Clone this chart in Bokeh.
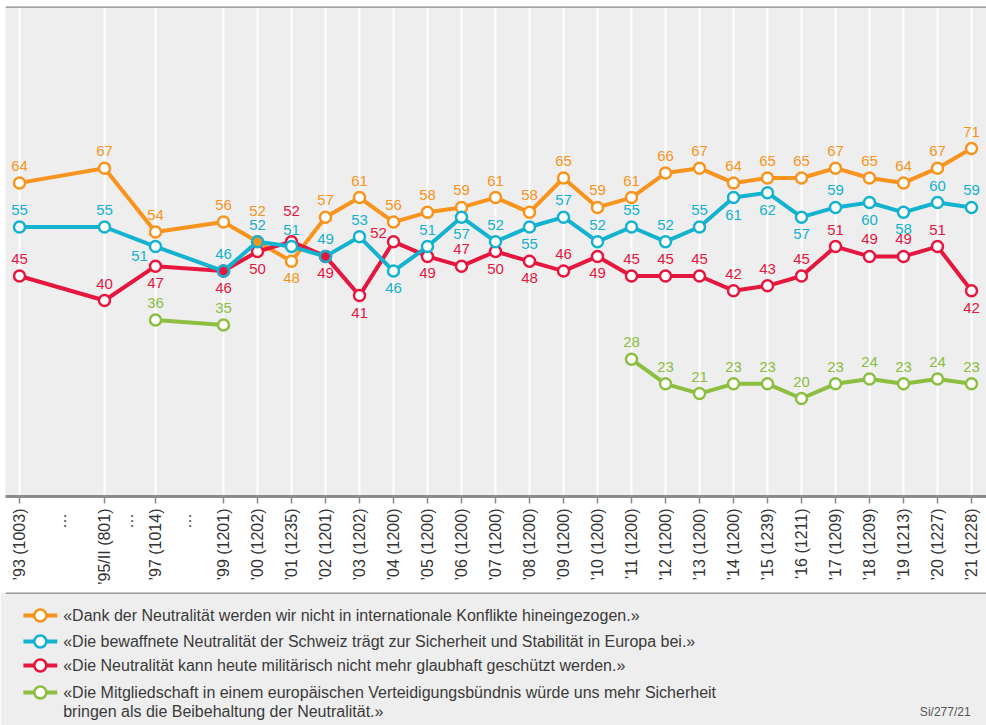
import math
import numpy as np
import pandas as pd
from bokeh.plotting import figure
from bokeh.models import ColumnDataSource, FixedTicker, Span, Range1d
from bokeh.layouts import column
from bokeh.embed import file_html
from bokeh.resources import INLINE
from bokeh.core.properties import value

# ---------------- data ----------------
years = [1993, 1995.5, 1997, 1999, 2000, 2001, 2002, 2003, 2004, 2005, 2006, 2007,
         2008, 2009, 2010, 2011, 2012, 2013, 2014, 2015, 2016, 2017, 2018, 2019, 2020, 2021]
tick_labels = ["’93 (1003)", "’95/II (801)", "’97 (1014)", "’99 (1201)", "’00 (1202)",
               "’01 (1235)", "’02 (1201)", "’03 (1202)", "’04 (1200)", "’05 (1200)",
               "’06 (1200)", "’07 (1200)", "’08 (1200)", "’09 (1200)", "’10 (1200)",
               "’11 (1200)", "’12 (1200)", "’13 (1200)", "’14 (1200)", "’15 (1239)",
               "’16 (1211)", "’17 (1209)", "’18 (1209)", "’19 (1213)", "’20 (1227)",
               "’21 (1228)"]
gap_marks = [1994.2, 1996.17, 1997.88]
gap_label = "…\u00a0"

nan = float("nan")
konflikte = [64, 67, 54, 56, 52, 48, 57, 61, 56, 58, 59, 61, 58, 65, 59, 61, 66, 67,
             64, 65, 65, 67, 65, 64, 67, 71]
stabilitaet = [55, 55, 51, 46, 52, 51, 49, 53, 46, 51, 57, 52, 55, 57, 52, 55, 52, 55,
               61, 62, 57, 59, 60, 58, 60, 59]
nicht_glaubhaft = [45, 40, 47, 46, 50, 52, 49, 41, 52, 49, 47, 50, 48, 46, 49, 45, 45,
                   45, 42, 43, 45, 51, 49, 49, 51, 42]
buendnis = [nan, nan, 36, 35, nan, nan, nan, nan, nan, nan, nan, nan, nan, nan, nan,
            28, 23, 21, 23, 23, 20, 23, 24, 23, 24, 23]

legend_texts = [
    ["«Dank der Neutralität werden wir nicht in internationale Konflikte hineingezogen.»"],
    ["«Die bewaffnete Neutralität der Schweiz trägt zur Sicherheit und Stabilität in Europa bei.»"],
    ["«Die Neutralität kann heute militärisch nicht mehr glaubhaft geschützt werden.»"],
    ["«Die Mitgliedschaft in einem europäischen Verteidigungsbündnis würde uns mehr Sicherheit",
     "bringen als die Beibehaltung der Neutralität.»"],
]
source_note = "Si/277/21"

# ---------------- styles ----------------
ORANGE = "#F7941D"
BLUE = "#13B2CF"
RED = "#E5173F"
GREEN = "#8CBE3F"
FONT = "Liberation Sans"
TXT = "#3a3a3a"

# label placement codes: a = above, b = below, A = high above,
# L = left-below, U = left-above
place_orange = "aaaaAb" + "a" * 20
place_blue = "aaLaaaaa" + "babab" + "aaaaa" + "bbb" + "a" + "bb" + "aa"
place_red = "aabbbAbbUbab" + "bab" + "a" * 10 + "b"
place_green = "a" * 26

offsets = {"a": (0, -17), "b": (0, 17), "A": (0, -31), "L": (-16, 9), "U": (-15, -9)}

PX_PER_YEAR = 34.0
FRAME_W = 981
x0 = 1993 - 14 / PX_PER_YEAR
x1 = x0 + FRAME_W / PX_PER_YEAR
p = figure(frame_width=FRAME_W, frame_height=490, x_range=Range1d(x0, x1),
           y_range=Range1d(0, 100), toolbar_location=None, output_backend="svg",
           y_axis_location=None, min_border_left=5, min_border_right=0,
           min_border_top=6, min_border_bottom=96)
p.background_fill_color = "#eeeeee"
p.border_fill_color = "white"
p.outline_line_color = None
p.ygrid.visible = False
p.xgrid.ticker = FixedTicker(ticks=years)
p.xgrid.grid_line_color = "white"
p.xgrid.grid_line_width = 2

ax = p.xaxis[0]
ax.ticker = FixedTicker(ticks=sorted(years + gap_marks), minor_ticks=years)
overrides = {y: l for y, l in zip(years, tick_labels)}
overrides.update({g: gap_label for g in gap_marks})
ax.major_label_overrides = overrides
ax.major_label_orientation = math.pi / 2
ax.major_label_text_font = FONT
ax.major_label_text_font_size = "16px"
ax.major_label_text_color = "#333333"
ax.major_label_standoff = 5
ax.axis_line_color = "#8c8c8c"
ax.axis_line_width = 3
ax.major_tick_line_color = None
ax.minor_tick_line_color = "#8c8c8c"
ax.minor_tick_line_width = 1.5
ax.minor_tick_out = 7
ax.minor_tick_in = 0
ax.major_tick_out = 7
ax.major_tick_in = 0

p.add_layout(Span(location=100, dimension="width", line_color="#8a8a8a", line_width=2.5))


def draw(vals, color, place, fills=None):
    df = pd.DataFrame({"x": years, "y": vals})
    df["txt"] = ["" if np.isnan(v) else str(int(v)) for v in vals]
    df["xo"] = [offsets[c][0] for c in place]
    df["yo"] = [offsets[c][1] for c in place]
    df["fill"] = fills if fills is not None else ["white"] * len(vals)
    src = ColumnDataSource(df)
    p.line("x", "y", source=src, line_color=color, line_width=4)
    p.scatter("x", "y", source=src, size=11, fill_color="fill", line_color=color,
              line_width=2.5)
    p.text("x", "y", text="txt", source=src, x_offset="xo", y_offset="yo",
           text_align="center", text_baseline="middle", text_font=value(FONT),
           text_font_size="15px", text_color=color)


blue_fill = []
for b, r, o in zip(stabilitaet, nicht_glaubhaft, konflikte):
    if b == r:
        blue_fill.append(RED)
    elif b == o:
        blue_fill.append(ORANGE)
    else:
        blue_fill.append("white")

draw(buendnis, GREEN, place_green)
draw(konflikte, ORANGE, place_orange)
draw(nicht_glaubhaft, RED, place_red)
draw(stabilitaet, BLUE, place_blue, blue_fill)

# ---------------- legend panel ----------------
LEG_H = 133
leg = figure(width=986, height=LEG_H, x_range=Range1d(0, 986), y_range=Range1d(LEG_H, 0),
             toolbar_location=None, output_backend="svg", x_axis_location=None,
             y_axis_location=None, min_border=0)
leg.background_fill_color = "#eeeeee"
leg.border_fill_color = "#eeeeee"
leg.outline_line_color = None
leg.grid.visible = False
leg.add_layout(Span(location=0.6, dimension="width", line_color="#9a9a9a", line_width=2))

row_y = [23, 49, 73, 100]
line_gap = 19
colors = [ORANGE, BLUE, RED, GREEN]
for ry, col, lines in zip(row_y, colors, legend_texts):
    leg.line([18, 52], [ry, ry], line_color=col, line_width=4)
    leg.scatter([35], [ry], size=12, fill_color="white", line_color=col, line_width=2.5)
    for k, t in enumerate(lines):
        leg.text([58], [ry + k * line_gap], text=[t], text_align="left",
                 text_baseline="middle", text_font=value(FONT), text_font_size="16px",
                 text_color=TXT)
leg.text([970], [row_y[-1] + line_gap], text=[source_note], text_align="right",
         text_baseline="middle", text_font=value(FONT), text_font_size="12px",
         text_color="#555555")

layout = column(p, leg, spacing=0)
open("out.html", "w").write(file_html(layout, INLINE))
